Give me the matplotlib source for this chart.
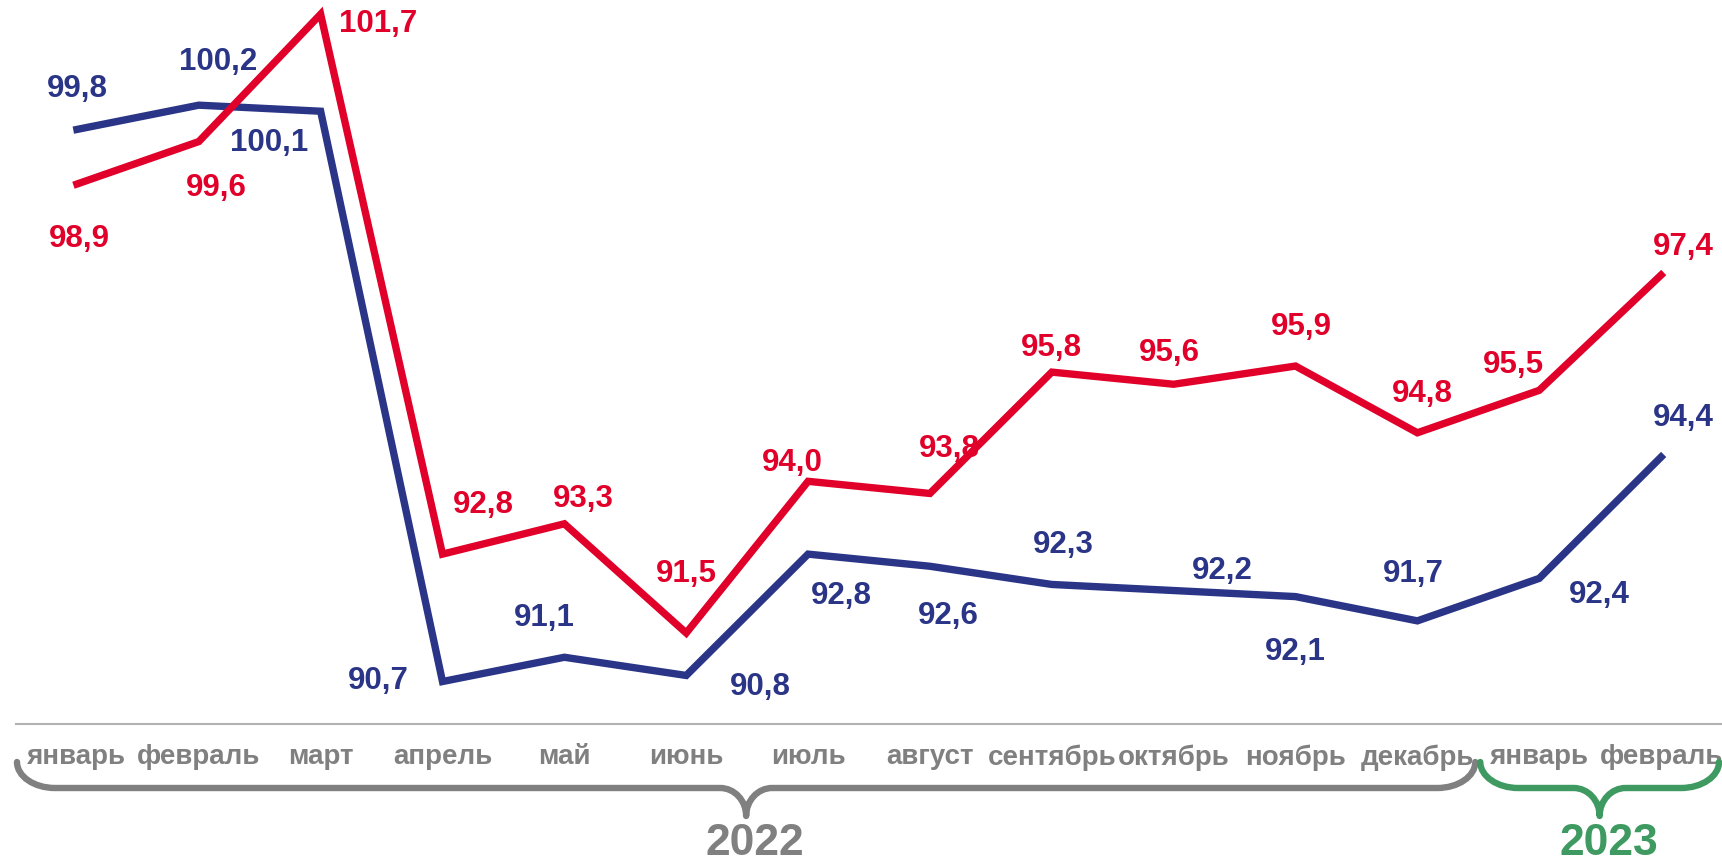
import matplotlib
matplotlib.use("Agg")
import matplotlib.pyplot as plt
from matplotlib.path import Path
from matplotlib.patches import PathPatch

months = ["январь", "февраль", "март", "апрель", "май", "июнь", "июль",
          "август", "сентябрь", "октябрь", "ноябрь", "декабрь", "январь", "февраль"]
blue_values = [99.8, 100.2, 100.1, 90.7, 91.1, 90.8, 92.8, 92.6, 92.3, 92.2, 92.1, 91.7, 92.4, 94.4]
red_values = [98.9, 99.6, 101.7, 92.8, 93.3, 91.5, 94.0, 93.8, 95.8, 95.6, 95.9, 94.8, 95.5, 97.4]
years = ["2022", "2023"]
year_spans = [(0, 11), (12, 13)]  # first and last month index of each year

# label placement offsets (pixels)
blue_off = [(0, 41), (19, 44), (-52, -31), (-64, 2), (-20, 40), (74, -11), (33, -41),
            (18, -49), (12, 40), (49, 21), (0, -54), (-4, 48), (60, -16), (22, 40)]
red_off = [(2, -54), (18, -45), (57, -9), (41, 50), (19, 26), (0, 60), (-16, 19),
           (19, 45), (0, 25), (-4, 32), (6, 40), (5, 40), (-26, 26), (22, 29)]

BLUE = "#2a3587"
RED = "#e1002a"
GRAY = "#808080"
GREEN = "#3f9a62"
FONT = "Liberation Sans"

W, H = 1722, 862
fig = plt.figure(figsize=(W / 100, H / 100), dpi=100)
ax = fig.add_axes([16 / W, 137 / H, 1 - 16 / W, 725 / H])
x = list(range(len(months)))

ax.plot(x, blue_values, color=BLUE, lw=5.3, solid_joinstyle="miter", clip_on=False, zorder=3)
ax.plot(x, red_values, color=RED, lw=5.3, solid_joinstyle="miter", clip_on=False, zorder=4)

for i, v in enumerate(blue_values):
    ax.annotate(f"{v:.1f}".replace(".", ","), (i, v), xytext=blue_off[i], textcoords="offset pixels",
                ha="center", va="center", color=BLUE, fontsize=22.5, fontweight="bold",
                family=FONT, annotation_clip=False)
for i, v in enumerate(red_values):
    ax.annotate(f"{v:.1f}".replace(".", ","), (i, v), xytext=red_off[i], textcoords="offset pixels",
                ha="center", va="center", color=RED, fontsize=22.5, fontweight="bold",
                family=FONT, annotation_clip=False)

ax.set_xlim(-0.5, len(months) - 0.5)
ax.set_ylim(90, 101.95)
for s in ["top", "right", "left"]:
    ax.spines[s].set_visible(False)
ax.spines["bottom"].set_color("#b3b3b3")
ax.spines["bottom"].set_linewidth(1.5)
ax.set_yticks([])
ax.set_xticks(x)
ax.set_xticklabels(months, color=GRAY, fontsize=20, fontweight="bold", family=FONT)
ax.tick_params(axis="x", length=0, pad=14)

# overlay in pixel coordinates for braces
ov = fig.add_axes([0, 0, 1, 1])
ov.set_xlim(0, W)
ov.set_ylim(H, 0)
ov.axis("off")
ov.patch.set_alpha(0)


def to_px(xd):
    px, _ = ax.transData.transform((xd, 90))
    return px * W / fig.get_figwidth() / fig.dpi


def brace(x0, x1, color, yt=763, yh=789, ytip=817, rx=38, cx=26):
    k = 0.552
    xc = (x0 + x1) / 2
    verts = [
        (x0, yt),
        (x0, yt + k * (yh - yt)), (x0 + rx * (1 - k), yh), (x0 + rx, yh),
        (xc - cx, yh),
        (xc - cx + cx * k, yh), (xc, ytip - (ytip - yh) * k), (xc, ytip),
        (xc, ytip - (ytip - yh) * k), (xc + cx - cx * k, yh), (xc + cx, yh),
        (x1 - rx, yh),
        (x1 - rx * (1 - k), yh), (x1, yt + k * (yh - yt)), (x1, yt),
    ]
    codes = [Path.MOVETO, Path.CURVE4, Path.CURVE4, Path.CURVE4, Path.LINETO,
             Path.CURVE4, Path.CURVE4, Path.CURVE4, Path.CURVE4, Path.CURVE4, Path.CURVE4,
             Path.LINETO, Path.CURVE4, Path.CURVE4, Path.CURVE4]
    ov.add_patch(PathPatch(Path(verts, codes), fill=False, ec=color, lw=4.6, capstyle="round",
                           joinstyle="round", clip_on=False))
    return xc


for (a, b), label, col in zip(year_spans, years, [GRAY, GREEN]):
    x0 = to_px(a - 0.5) + (1 if a == 0 else 2)
    x1 = to_px(b + 0.5) - 3
    xc = brace(x0, x1, col)
    ov.text(xc + 9, 844, label, ha="center", va="center", color=col, fontsize=32,
            fontweight="bold", family=FONT)

fig.savefig("out.png", dpi=100)
